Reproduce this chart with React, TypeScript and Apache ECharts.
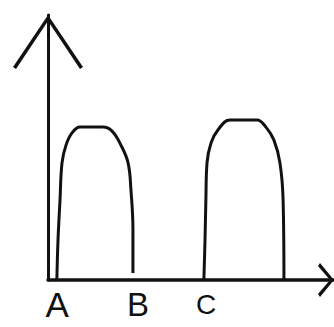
import React, { useEffect, useRef } from "react";
import * as echarts from "echarts";

// Hand-drawn sketch: two plateau-shaped humps on bare axes (arbitrary units, 0..100)
const hump1: [number, number][] = [
  [3.1, 0], [3.5, 15.1], [4.2, 30.2], [4.9, 44.2], [6.3, 50.9], [8.4, 55.5],
  [11.2, 57.7], [19.2, 57.7], [22.4, 56.2], [25.5, 50.9], [28.0, 44.2],
  [29.0, 34.0], [29.7, 18.9], [29.7, 2.6],
];
const hump2: [number, number][] = [
  [54.5, 0], [54.9, 15.1], [55.2, 30.2], [55.6, 44.2], [57.0, 51.7], [59.4, 56.6],
  [63.6, 60.4], [73.1, 60.4], [76.2, 57.7], [79.0, 52.8], [81.1, 44.2],
  [82.2, 30.2], [82.5, 0],
];
const tickValues = [3.2, 31.5, 55.3];
const tickLabels = ["A", "B", "C"];

const yArrow = "path://M35,0 L70,52 L67,54 L35,6 L3,54 L0,52 Z";
const xArrow = "path://M17,0 L34,14 L31,16 L17,4 L3,16 L0,14 Z";

export default function App() {
  const ref = useRef<HTMLDivElement>(null);
  useEffect(() => {
    if (!ref.current) return;
    const chart = echarts.init(ref.current, null, { renderer: "svg" });
    const lineStyle = { color: "#111", width: 3 };
    chart.setOption({
      animation: false,
      backgroundColor: "#fff",
      grid: {
        left: 48,
        right: 0,
        top: 15,
        bottom: 47,
        containLabel: false,
        outerBoundsMode: "none",
      },
      xAxis: {
        type: "value",
        min: 0,
        max: 100,
        splitLine: { show: false },
        axisTick: { show: false },
        axisLine: {
          show: true,
          lineStyle: { color: "#111", width: 3.5 },
          symbol: ["none", xArrow],
          symbolSize: [34, 16],
          symbolOffset: [0, -8],
        },
        axisLabel: {
          customValues: tickValues,
          margin: 9,
          color: "#111",
          fontFamily: "Liberation Sans",
          hideOverlap: false,
          formatter: (v: number) => {
            const i = tickValues.indexOf(v);
            const s = i >= 0 ? tickLabels[i] : "";
            return `{${s.toLowerCase()}|${s}}`;
          },
          rich: {
            a: { fontSize: 35, lineHeight: 30, fontFamily: "Liberation Sans", color: "#111" },
            b: { fontSize: 33, lineHeight: 30, fontFamily: "Liberation Sans", color: "#111" },
            c: { fontSize: 28, lineHeight: 30, fontFamily: "Liberation Sans", color: "#111" },
          },
        },
      },
      yAxis: {
        type: "value",
        min: 0,
        max: 100,
        splitLine: { show: false },
        axisTick: { show: false },
        axisLabel: { show: false },
        axisLine: {
          show: true,
          lineStyle: { color: "#111", width: 3 },
          symbol: ["none", yArrow],
          symbolSize: [70, 54],
          symbolOffset: [0, -27],
        },
      },
      series: [
        {
          type: "line",
          data: hump1,
          smooth: 0.4,
          showSymbol: false,
          lineStyle,
        },
        {
          type: "line",
          data: hump2,
          smooth: 0.4,
          showSymbol: false,
          lineStyle,
        },
      ],
    });
    return () => chart.dispose();
  }, []);
  return (
    <div
      ref={ref}
      style={{ position: "fixed", left: 0, top: 0, width: 334, height: 327 }}
    />
  );
}
